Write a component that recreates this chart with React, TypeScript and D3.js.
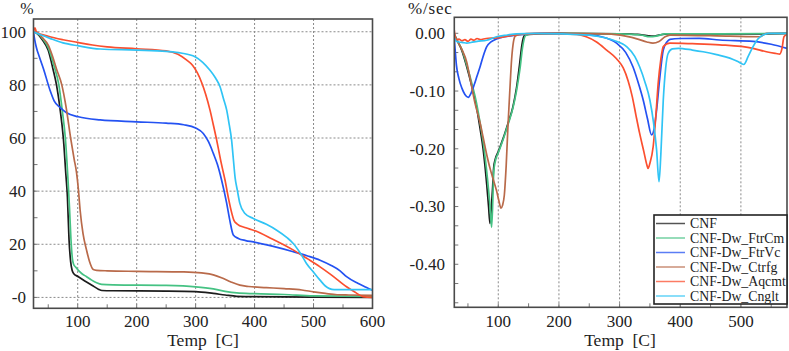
import React from "react";
import * as d3 from "d3";

type Pt = [number, number];

// Series names and colours
const seriesNames = [
  "CNF",
  "CNF-Dw_FtrCm",
  "CNF-Dw_FtrVc",
  "CNF-Dw_Ctrfg",
  "CNF-Dw_Aqcmt",
  "CNF-Dw_Cnglt",
];
const seriesColors = ["#1c1c1c", "#45c283", "#2452f2", "#b96a4a", "#fb4f2f", "#30c4f5"];

// TGA: residual mass [%] vs temperature [C]
const tgaCNF: Pt[] = [
  [25, 100], [30, 99.5], [40, 97], [50, 93], [58, 86], [64, 80], [70, 71], [75.6, 60], [80, 46],
  [82.5, 38], [85.2, 22], [88, 13.5], [90.5, 10.2], [93, 9], [101, 7.8], [112, 6.2], [124, 4.6],
  [135, 3.1], [141, 2.6], [160, 2.5], [250, 2.4], [300, 2.2], [330, 1.5], [350, 0.9], [370, 0.4],
  [400, 0.3], [500, 0.1], [600, 0],
];
const tgaFtrCm: Pt[] = [
  [25, 100], [30, 99.6], [40, 97.5], [50, 94], [60, 87], [68, 80], [74, 70], [79, 60], [83.6, 44],
  [86, 34], [88.5, 22], [91, 14.5], [93, 12.5], [96, 11.5], [106.7, 9], [115, 7.8], [123.7, 6.5],
  [132, 5.5], [140.7, 4.9], [160, 4.7], [250, 4.5], [300, 4.0], [330, 3.2], [350, 2.3], [370, 1.7],
  [400, 1.4], [450, 1.1], [500, 0.6], [600, 0.4],
];
const tgaFtrVc: Pt[] = [
  [25, 100], [27, 97], [30, 94], [35, 90.5], [42, 86], [53, 78], [60, 74], [70, 71.5], [81, 69.5],
  [101, 68], [138, 66.8], [200, 66.1], [250, 65.6], [280, 65], [300, 63.8], [313, 61.7], [322, 58.5],
  [330, 54.2], [337, 50], [344, 44.2], [352.7, 35.4], [358, 29], [363.9, 23.5], [372.4, 22.2],
  [385, 21.4], [397.8, 20.9], [430, 19.3], [465.6, 17.2], [490, 15.6], [511, 14], [530, 12],
  [545, 10], [556, 7.8], [575, 5.3], [590, 3.7], [600, 2.7],
];
const tgaCtrfg: Pt[] = [
  [25, 100], [30, 99.8], [40, 97.8], [50, 95], [57, 91], [64, 86], [73, 80], [80, 72], [88, 60],
  [94, 52], [98, 47], [101, 41], [104, 33], [109, 24], [115, 17.8], [120, 13.5], [126.4, 10.5],
  [132, 10.2], [150, 10], [200, 9.8], [280, 9.6], [310, 9.2], [330, 8.5], [345, 7.3], [360, 5.8],
  [375, 4.6], [390, 4.1], [420, 3.7], [450, 3.3], [480, 2.8], [500, 2.1], [520, 1.5], [540, 1.0],
  [560, 0.9], [600, 0.8],
];
const tgaAqcmt: Pt[] = [
  [25, 100], [27.5, 101.5], [30, 99.8], [50, 98.3], [75, 97], [100, 96], [125, 95], [150, 94.3],
  [200, 93.6], [250, 92.8], [270, 91.5], [285, 89.3], [295, 87.3], [303, 84.5], [310, 81],
  [317, 76.5], [324.4, 70.5], [330, 65], [335.7, 59.2], [343, 51], [350, 44], [356, 37], [361, 32],
  [365, 29], [370, 27.7], [385, 26.2], [398, 25.3], [430, 22], [466, 17.8], [490, 14.5],
  [511, 11.5], [530, 8.5], [556, 4], [570, 2], [584, 0.3], [600, 0],
];
const tgaCnglt: Pt[] = [
  [25, 100], [30, 99.5], [53, 97.5], [75, 95.8], [101, 94.7], [138, 93.5], [200, 93.1],
  [250, 92.6], [275, 92], [299, 90.6], [312, 88.5], [324, 85.6], [334, 82.5], [341.4, 79.3],
  [347, 75], [352.7, 70.5], [357, 65], [361, 59.2], [364, 52], [367, 45], [370.7, 40.4],
  [375, 35.4], [383.7, 31.6], [397.8, 29.7], [420, 27.5], [437.5, 25.3], [455, 22.5],
  [465.6, 20.3], [478, 16.5], [488, 12.8], [500, 9.5], [511, 6.5], [520, 4.3], [527, 3.3],
  [535, 2.9], [600, 2.9],
];

// DTG: mass loss rate [%/sec] vs temperature [C]
const dtgCNF: Pt[] = [
  [27.5, -0.002], [32, -0.012], [40, -0.03], [48, -0.058], [56, -0.09], [64, -0.127], [70, -0.165],
  [75, -0.2], [81, -0.262], [84, -0.3], [86.3, -0.329], [88, -0.31], [90.5, -0.27], [92.5, -0.232],
  [95, -0.218], [100, -0.205], [108, -0.182], [116, -0.156], [124, -0.128], [130, -0.095],
  [135, -0.055], [139, -0.02], [143, -0.004], [150, -0.002], [200, 0], [300, -0.001],
  [330, -0.002], [345, -0.004], [355, -0.005], [365, -0.003], [380, -0.001], [450, -0.001],
  [520, -0.001], [576, 0],
];
const dtgFtrCm: Pt[] = [
  [27.5, -0.002], [32, -0.012], [40, -0.028], [48, -0.055], [56, -0.085], [64, -0.12], [70, -0.155],
  [76, -0.195], [82, -0.25], [86, -0.295], [89, -0.336], [91, -0.29], [92.5, -0.24], [95, -0.222],
  [100, -0.207], [108, -0.184], [116, -0.158], [124, -0.13], [130, -0.1], [136, -0.06],
  [140, -0.025], [145, -0.004], [155, -0.001], [200, 0], [300, -0.001], [335, -0.003],
  [350, -0.006], [360, -0.005], [375, -0.001], [450, -0.001], [576, 0],
];
const dtgFtrVc: Pt[] = [
  [27.5, -0.01], [29, -0.03], [31, -0.055], [35, -0.078], [40, -0.095], [45, -0.106],
  [50.6, -0.111], [55, -0.104], [60, -0.09], [65, -0.074], [70, -0.058], [75, -0.04],
  [81, -0.023], [88, -0.015], [97, -0.01], [110, -0.006], [130, -0.003], [170, 0], [240, -0.002],
  [270, -0.006], [295, -0.017], [310, -0.033], [322, -0.058], [332, -0.09], [339, -0.116],
  [346, -0.148], [352.7, -0.176], [357, -0.165], [361, -0.133], [366, -0.08], [372, -0.029],
  [378, -0.015], [383, -0.0104], [400, -0.009], [432, -0.0087], [465, -0.0116], [520, -0.014],
  [550, -0.019], [576, -0.026],
];
const dtgCtrfg: Pt[] = [
  [27.5, -0.002], [32, -0.012], [40, -0.028], [48, -0.05], [53, -0.075], [61.6, -0.121],
  [70, -0.155], [75, -0.18], [82, -0.215], [88, -0.24], [92, -0.254], [97, -0.272], [101, -0.29],
  [104.5, -0.303], [107, -0.298], [110, -0.28], [113, -0.23], [116, -0.16], [119, -0.1],
  [122, -0.045], [125, -0.015], [128, -0.005], [135, -0.002], [200, 0], [280, -0.001],
  [310, -0.005], [330, -0.01], [345, -0.015], [355, -0.017], [365, -0.014], [375, -0.006],
  [383, -0.003], [482, -0.005], [531, -0.006], [542, 0], [576, 0],
];
const dtgAqcmt: Pt[] = [
  [27.5, 0.005], [28.5, -0.005], [30, -0.012], [35, -0.01], [40, -0.013], [45, -0.011],
  [50, -0.014], [55, -0.01], [60, -0.012], [65, -0.009], [70, -0.011], [80, -0.009], [97, -0.008],
  [130, -0.0023], [160, 0], [230, -0.002], [245, -0.006], [262, -0.015], [278.6, -0.029],
  [295, -0.044], [306, -0.06], [314, -0.082], [321, -0.11], [327, -0.142], [333, -0.173],
  [340, -0.205], [345, -0.228], [347, -0.234], [350, -0.225], [355.4, -0.196], [360, -0.14],
  [363.6, -0.087], [368, -0.045], [372, -0.023], [383, -0.017], [420, -0.018], [465, -0.02],
  [520, -0.026], [542, -0.032], [558, -0.035], [564, -0.036], [568, -0.025], [571, -0.006],
  [576, -0.002],
];
const dtgCnglt: Pt[] = [
  [27.5, -0.008], [30, -0.013], [35, -0.015], [42, -0.016], [48, -0.017], [55, -0.016],
  [65, -0.014], [81, -0.012], [97, -0.006], [115, -0.003], [130, -0.001], [160, 0], [250, -0.003],
  [267.5, -0.006], [290, -0.012], [311.5, -0.023], [325, -0.04], [333, -0.058], [342, -0.085],
  [350, -0.116], [356, -0.155], [361, -0.202], [365, -0.257], [368, -0.21], [372, -0.116],
  [376, -0.06], [380, -0.035], [387, -0.027], [397, -0.026], [420, -0.029], [437.7, -0.032],
  [460, -0.037], [481.7, -0.043], [495, -0.049], [504.8, -0.054], [512, -0.04], [520, -0.023],
  [528, -0.01], [536.6, -0.003], [545, 0], [576, 0],
];

const tgaSeries = [tgaCNF, tgaFtrCm, tgaFtrVc, tgaCtrfg, tgaAqcmt, tgaCnglt];
const dtgSeries = [dtgCNF, dtgFtrCm, dtgFtrVc, dtgCtrfg, dtgAqcmt, dtgCnglt];

// Axis ticks
const tgaXTicks = [100, 200, 300, 400, 500, 600];
const tgaYTicks = [0, 20, 40, 60, 80, 100];
const tgaYLabels = ["-0", "20", "40", "60", "80", "100"];
const dtgXTicks = [100, 200, 300, 400, 500];
const dtgYTicks = [0, -0.1, -0.2, -0.3, -0.4];
const dtgYLabels = ["0.00", "-0.10", "-0.20", "-0.30", "-0.40"];

const FONT = "'Liberation Serif', 'Times New Roman', serif";

export default function App() {
  const W = 789;
  const H = 351;

  // Left panel (TGA)
  const xL = d3.scaleLinear().domain([25, 600]).range([33.5, 372.5]);
  const yL = d3.scaleLinear().domain([-4.1, 104.8]).range([308.3, 19]);
  // Right panel (DTG)
  const xR = d3.scaleLinear().domain([27.5, 576]).range([454.3, 787]);
  const yR = d3.scaleLinear().domain([-0.4745, 0.0277]).range([307.3, 17.3]);

  const lineL = d3
    .line<Pt>()
    .x((d) => xL(d[0]))
    .y((d) => yL(d[1]))
    .curve(d3.curveMonotoneX);
  const lineR = d3
    .line<Pt>()
    .x((d) => xR(d[0]))
    .y((d) => yR(d[1]))
    .curve(d3.curveMonotoneX);

  const [lx0, lx1] = xL.range();
  const [ly0, ly1] = [yL.range()[1], yL.range()[0]];
  const [rx0, rx1] = xR.range();
  const [ry0, ry1] = [yR.range()[1], yR.range()[0]];

  const tgaMinorX = d3.range(50, 600, 50);
  const tgaMinorY = d3.range(0, 105, 10);
  const dtgMinorX = d3.range(50, 576, 50);
  const dtgMinorY = d3.range(0, 15).map((i) => -i * (0.1 / 3)).filter((v) => v > -0.47);

  const gridStyle = { stroke: "#8a8a8a", strokeWidth: 1, strokeDasharray: "2,2" };
  const tickStroke = "#777";

  const legendX = 654;
  const legendY = 215;
  const legendW = 133;
  const legendH = 89;
  const rowH = 14.5;

  return (
    <div style={{ position: "absolute", left: 0, top: 0 }}>
      <svg width={W} height={H} style={{ display: "block", background: "#fff" }} fontFamily={FONT}>
        <defs>
          <clipPath id="clipL">
            <rect x={lx0} y={ly0} width={lx1 - lx0} height={ly1 - ly0} />
          </clipPath>
          <clipPath id="clipR">
            <rect x={rx0} y={ry0} width={rx1 - rx0} height={ry1 - ry0} />
          </clipPath>
        </defs>

        {/* ---------- TGA panel ---------- */}
        <g>
          {tgaXTicks.slice(0, -1).map((t) => (
            <line key={"gx" + t} x1={xL(t)} x2={xL(t)} y1={ly0} y2={ly1} style={gridStyle} />
          ))}
          {tgaYTicks.map((t) => (
            <line key={"gy" + t} x1={lx0} x2={lx1} y1={yL(t)} y2={yL(t)} style={gridStyle} />
          ))}
          {tgaMinorX.map((t) => (
            <line key={"mx" + t} x1={xL(t)} x2={xL(t)} y1={ly1} y2={ly1 - 4} stroke={tickStroke} />
          ))}
          {tgaMinorY.map((t) => (
            <line key={"my" + t} x1={lx0} x2={lx0 + 4} y1={yL(t)} y2={yL(t)} stroke={tickStroke} />
          ))}
          <g clipPath="url(#clipL)">
            {tgaSeries.map((s, i) => (
              <path key={"tl" + i} d={lineL(s) || ""} fill="none" stroke={seriesColors[i]} strokeWidth={1.7} />
            ))}
          </g>
          <rect x={lx0} y={ly0} width={lx1 - lx0} height={ly1 - ly0} fill="none" stroke="#4a4a4a" strokeWidth={1.6} />
          {tgaXTicks.map((t) => (
            <text key={"lx" + t} x={xL(t)} y={327} textAnchor="middle" fontSize={17} fill="#222">
              {t}
            </text>
          ))}
          {tgaYTicks.map((t, i) => (
            <text key={"ly" + t} x={26} y={yL(t)} dy="0.35em" textAnchor="end" fontSize={17} fill="#222">
              {tgaYLabels[i]}
            </text>
          ))}
          <text x={27} y={14} textAnchor="middle" fontSize={16} fill="#222">%</text>
          <text x={203} y={346} textAnchor="middle" fontSize={17.5} fill="#222" style={{ whiteSpace: "pre" }}>
            {"Temp  [C]"}
          </text>
        </g>

        {/* ---------- DTG panel ---------- */}
        <g>
          {dtgXTicks.map((t) => (
            <line key={"rgx" + t} x1={xR(t)} x2={xR(t)} y1={ry0} y2={ry1} style={gridStyle} />
          ))}
          {dtgMinorX.map((t) => (
            <line key={"rmx" + t} x1={xR(t)} x2={xR(t)} y1={ry1} y2={ry1 - 4} stroke={tickStroke} />
          ))}
          {dtgMinorY.map((t, i) => (
            <line key={"rmy" + i} x1={rx0} x2={rx0 + 4} y1={yR(t)} y2={yR(t)} stroke={tickStroke} />
          ))}
          <g clipPath="url(#clipR)">
            {dtgSeries.map((s, i) => (
              <path key={"rl" + i} d={lineR(s) || ""} fill="none" stroke={seriesColors[i]} strokeWidth={1.7} />
            ))}
          </g>
          <rect x={rx0} y={ry0} width={rx1 - rx0} height={ry1 - ry0} fill="none" stroke="#4a4a4a" strokeWidth={1.6} />
          {dtgXTicks.map((t) => (
            <text key={"rx" + t} x={xR(t)} y={327} textAnchor="middle" fontSize={17} fill="#222">
              {t}
            </text>
          ))}
          {dtgYTicks.map((t, i) => (
            <text key={"ry" + i} x={445} y={yR(t)} dy="0.35em" textAnchor="end" fontSize={17} fill="#222">
              {dtgYLabels[i]}
            </text>
          ))}
          <text x={408} y={14} fontSize={17} fill="#222" letterSpacing={0.8}>%/sec</text>
          <text x={620} y={346} textAnchor="middle" fontSize={17.5} fill="#222" style={{ whiteSpace: "pre" }}>
            {"Temp  [C]"}
          </text>

          {/* Legend */}
          <g>
            <rect x={legendX} y={legendY} width={legendW} height={legendH} fill="#fff" stroke="#222" strokeWidth={1.6} />
            {seriesNames.map((name, i) => {
              const cy = legendY + 8.5 + i * rowH;
              return (
                <g key={"lg" + i}>
                  <line x1={legendX + 2} x2={legendX + 31} y1={cy} y2={cy} stroke={seriesColors[i]} strokeWidth={1.5} opacity={0.75} />
                  <text x={legendX + 36} y={cy} dy="0.33em" fontSize={13.8} fill="#222">
                    {name}
                  </text>
                </g>
              );
            })}
          </g>
        </g>
      </svg>
    </div>
  );
}
